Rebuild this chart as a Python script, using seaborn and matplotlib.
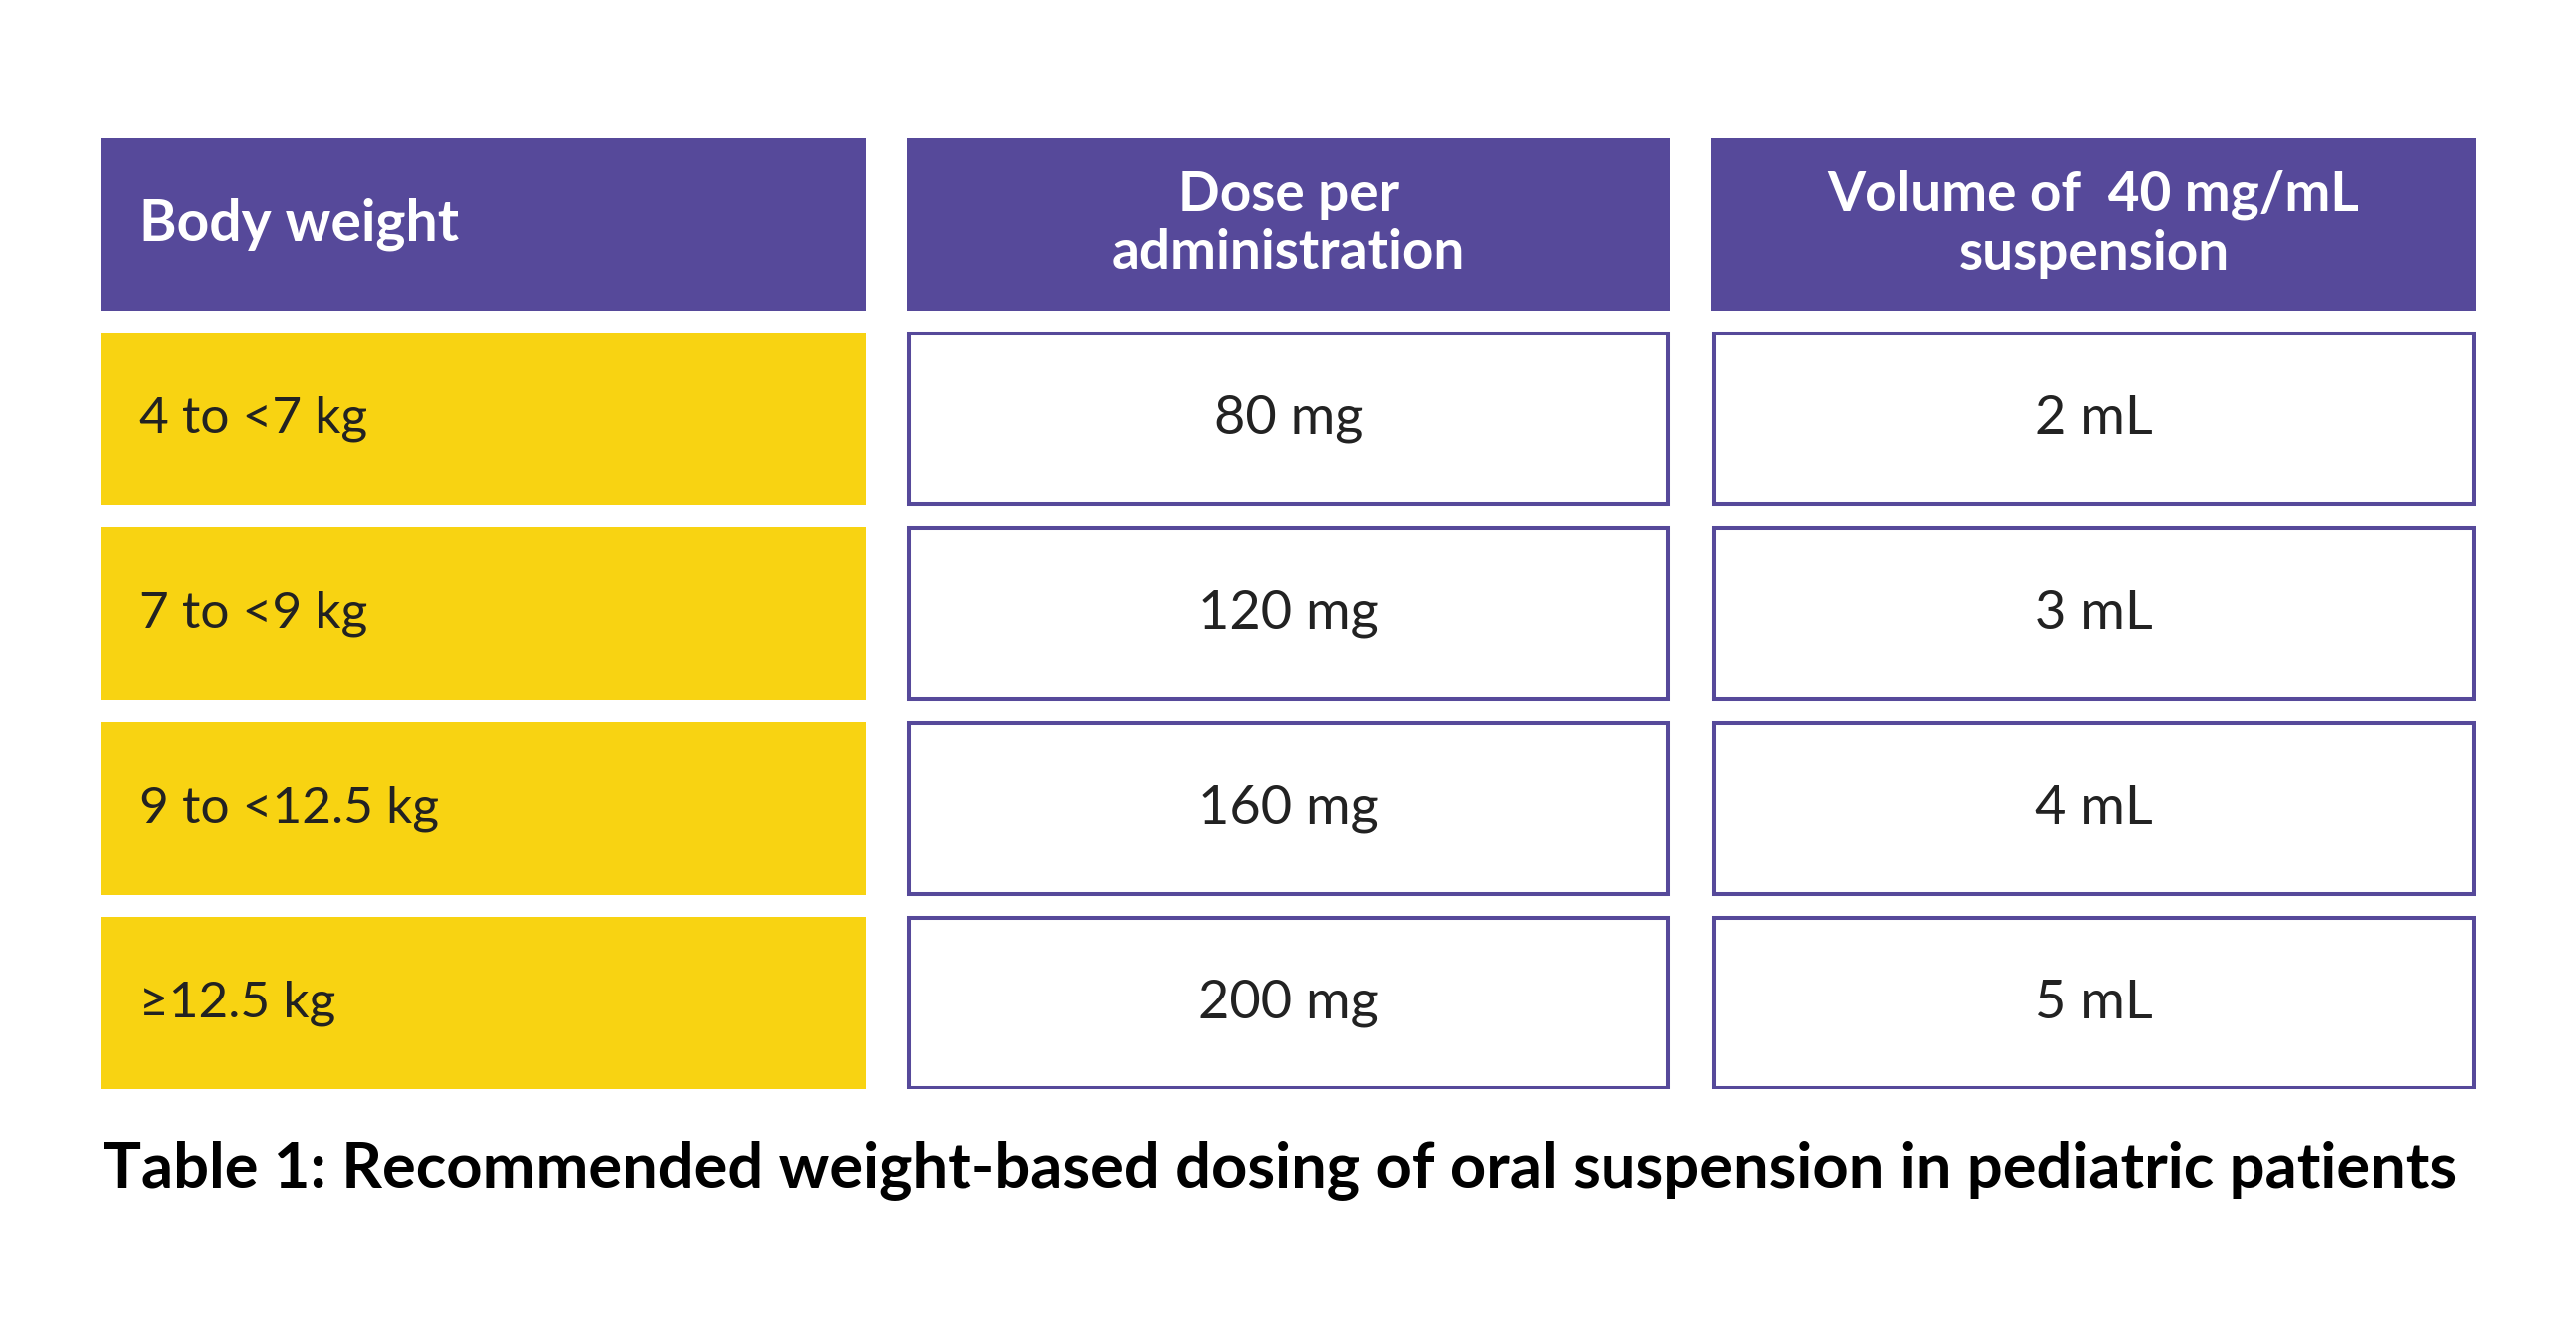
import matplotlib
matplotlib.use("Agg")
import matplotlib.pyplot as plt
from matplotlib.patches import Rectangle
import seaborn as sns

# table content
headers = ["Body weight", "Dose per\nadministration", "Volume of  40 mg/mL\nsuspension"]
body_weight = ["4 to <7 kg", "7 to <9 kg", "9 to <12.5 kg", "\u226512.5 kg"]
dose_mg = ["80 mg", "120 mg", "160 mg", "200 mg"]
volume_ml = ["2 mL", "3 mL", "4 mL", "5 mL"]
caption = "Table 1: Recommended weight-based dosing of oral suspension in pediatric patients"

PURPLE = "#56499a"
YELLOW = "#f8d312"
INK = "#222222"

sns.set_theme(style="white")
plt.rcParams['font.family'] = ['Lato', 'DejaVu Sans']

W, H = 2580, 1333
fig = plt.figure(figsize=(W / 100, H / 100), dpi=100)
fig.patch.set_facecolor("white")

# axes spans the table area, in pixels of the reference
left, right, top, bottom = 101, 2480, 138, 1091
ax = fig.add_axes([left / W, 1 - bottom / H, (right - left) / W, (bottom - top) / H])

cell_w = 0.949   # column pitch is 1 unit
cell_h = 0.885   # row pitch is 1 unit
ax.set_xlim(0, 2 + cell_w)
ax.set_ylim(4 + cell_h, 0)
ax.axis("off")

columns = [body_weight, dose_mg, volume_ml]

# header row
for c, label in enumerate(headers):
    ax.add_patch(Rectangle((c, 0), cell_w, cell_h, facecolor=PURPLE, edgecolor="none"))
    if c == 0:
        ax.text(c + 0.047, cell_h / 2, label, ha="left", va="center",
                color="white", fontsize=41, fontweight="bold")
    else:
        ax.text(c + cell_w / 2, cell_h / 2, label, ha="center", va="center",
                color="white", fontsize=39.5, fontweight="bold", linespacing=1.2)

# body rows
for c, col in enumerate(columns):
    for r, val in enumerate(col, start=1):
        if c == 0:
            ax.add_patch(Rectangle((c, r), cell_w, cell_h, facecolor=YELLOW, edgecolor="none"))
            ax.text(c + 0.047, r + cell_h / 2, val, ha="left", va="center",
                    color=INK, fontsize=37)
        else:
            ax.add_patch(Rectangle((c + 0.003, r + 0.005), cell_w - 0.006, cell_h - 0.01,
                                   facecolor="white", edgecolor=PURPLE, linewidth=2.9))
            ax.text(c + cell_w / 2, r + cell_h / 2, val, ha="center", va="center",
                    color=INK, fontsize=39)

fig.text(1282 / W, 1 - 1172 / H, caption, ha="center", va="center",
         color="black", fontsize=45.5, fontweight="bold")

fig.savefig("out.png", dpi=100, facecolor="white")
